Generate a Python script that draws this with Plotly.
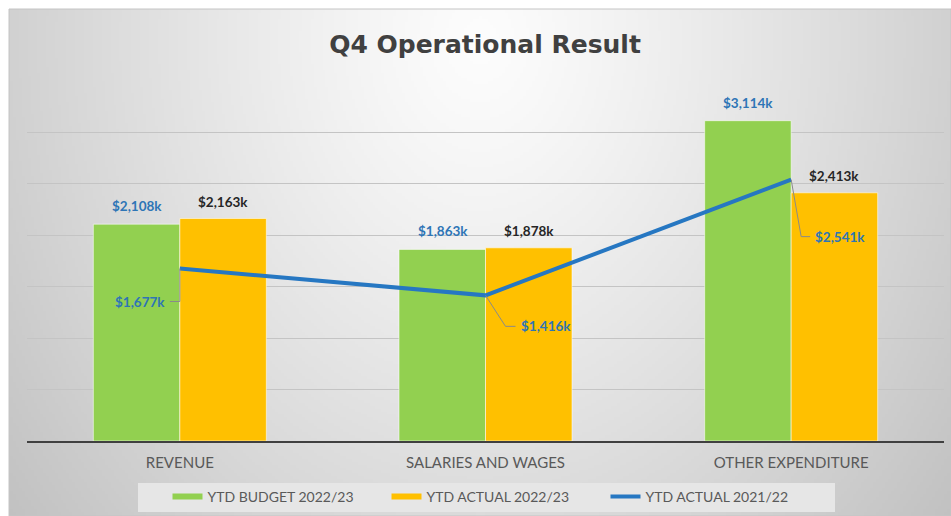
import base64
import struct
import zlib

import numpy as np
import plotly.graph_objects as go

# ---- data ($k) ----
categories = ["REVENUE", "SALARIES AND WAGES", "OTHER EXPENDITURE"]
ytd_budget_2223 = [2108, 1863, 3114]
ytd_actual_2223 = [2163, 1878, 2413]
ytd_actual_2122 = [1677, 1416, 2541]

series_names = ["YTD BUDGET 2022/23", "YTD ACTUAL 2022/23", "YTD ACTUAL 2021/22"]

W, H = 951, 516
GREEN = "#92d050"
ORANGE = "#ffc000"
BLUE = "#2677c2"
LABEL_BLUE = "#2e75b6"
FONT = "Lato"


def gray_png_uri(arr):
    """Encode a 2-D uint8 array as a grayscale PNG data URI."""
    h, w = arr.shape
    raw = b"".join(b"\x00" + arr[r].tobytes() for r in range(h))

    def chunk(tag, data):
        c = struct.pack(">I", len(data)) + tag + data
        return c + struct.pack(">I", zlib.crc32(tag + data) & 0xFFFFFFFF)

    png = (b"\x89PNG\r\n\x1a\n"
           + chunk(b"IHDR", struct.pack(">IIBBBBB", w, h, 8, 0, 0, 0, 0))
           + chunk(b"IDAT", zlib.compress(raw, 9))
           + chunk(b"IEND", b""))
    return "data:image/png;base64," + base64.b64encode(png).decode()


# radial light-to-grey backdrop of the chart card
gw, gh = 320, 172
gx = np.linspace(9, W, gw)[None, :]
gy = np.linspace(9, H, gh)[:, None]
d = np.sqrt(((gx - 480) / 560) ** 2 + ((gy - 40) / 700) ** 2)
shade = np.clip(253 - 54 * d ** 1.2, 0, 255).astype(np.uint8)
backdrop = gray_png_uri(shade)

fig = go.Figure()

fig.add_trace(go.Bar(
    x=categories, y=ytd_budget_2223, name=series_names[0],
    marker=dict(color=GREEN, line=dict(color="rgba(255,255,255,0.55)", width=1)),
    showlegend=False, hoverinfo="skip",
))
fig.add_trace(go.Bar(
    x=categories, y=ytd_actual_2223, name=series_names[1],
    marker=dict(color=ORANGE, line=dict(color="rgba(255,255,255,0.55)", width=1)),
    showlegend=False, hoverinfo="skip",
))
fig.add_trace(go.Scatter(
    x=categories, y=ytd_actual_2122, name=series_names[2], mode="lines",
    line=dict(color=BLUE, width=4), showlegend=False, hoverinfo="skip",
))

# legend entries drawn as short thick strokes
for name, color, width in zip(series_names, [GREEN, ORANGE, BLUE], [6, 6, 4]):
    fig.add_trace(go.Scatter(
        x=[None], y=[None], name=name, mode="lines",
        line=dict(color=color, width=width), showlegend=True,
    ))

label_font = dict(family=FONT, size=13.5, weight="bold")
annotations = []
shapes = []
half_bar = 43
for cat, v in zip(categories, ytd_budget_2223):
    annotations.append(dict(
        x=cat, y=v, text=f"${v:,}k", showarrow=False, xshift=-half_bar,
        yshift=18, font=dict(label_font, color=LABEL_BLUE),
    ))
for cat, v in zip(categories, ytd_actual_2223):
    annotations.append(dict(
        x=cat, y=v, text=f"${v:,}k", showarrow=False, xshift=half_bar,
        yshift=17, font=dict(label_font, color="#262626"),
    ))

# elbow callouts for the prior-year line: (bend dx, bend dy, end dx) in px
callout_paths = [(0, -33, -10), (20, -31, 30), (10, -57, 19)]
for cat, v, (bx, by, ex) in zip(categories, ytd_actual_2122, callout_paths):
    shapes.append(dict(
        type="path", xref="x", yref="y", xsizemode="pixel", ysizemode="pixel",
        xanchor=cat, yanchor=v, path=f"M 0 0 L {bx} {by} L {ex} {by}",
        line=dict(color="#8a8a8a", width=1), layer="above",
    ))
    right = ex < 0
    annotations.append(dict(
        x=cat, y=v, text=f"${v:,}k", showarrow=False,
        xanchor="right" if right else "left",
        xshift=ex - 3 if right else ex + 3, yshift=by,
        font=dict(label_font, color=LABEL_BLUE),
    ))

shapes += [
    dict(type="rect", xref="paper", yref="paper",
         x0=9 / W, x1=1, y0=0, y1=1 - 9 / H,
         line=dict(color="#c4c4c4", width=1), layer="below"),
    dict(type="rect", xref="paper", yref="paper",
         x0=138 / W, x1=835 / W, y0=1 - 512 / H, y1=1 - 483 / H,
         fillcolor="#e6e6e6", line=dict(width=0), layer="below"),
]

fig.update_layout(
    width=W, height=H,
    margin=dict(l=0, r=0, t=0, b=0),
    paper_bgcolor="white",
    plot_bgcolor="rgba(0,0,0,0)",
    barmode="group", bargap=0.434, bargroupgap=0,
    title=dict(
        text="Q4 Operational Result", x=485 / W, xanchor="center",
        y=1 - 44 / H, yanchor="middle",
        font=dict(family="DejaVu Sans", size=25, color="#404040", weight="bold"),
    ),
    xaxis=dict(
        domain=[27 / W, 944 / W], showgrid=False,
        showline=True, linecolor="#404040", linewidth=2,
        tickfont=dict(family=FONT, size=15, color="#595959"),
        ticks="", ticklabelstandoff=7,
    ),
    yaxis=dict(
        domain=[(H - 441) / H, (H - 81) / H], range=[0, 3500], dtick=500,
        showgrid=True, gridcolor="#c4c4c4", gridwidth=1,
        showticklabels=False, zeroline=False, ticks="",
    ),
    legend=dict(
        orientation="h", x=496 / W, xanchor="center", y=1 - 497 / H,
        yanchor="middle", bgcolor="rgba(0,0,0,0)",
        font=dict(family=FONT, size=14, color="#595959"),
        entrywidth=174, itemwidth=30,
    ),
    annotations=annotations,
    shapes=shapes,
    images=[dict(
        source=backdrop, xref="paper", yref="paper",
        x=9 / W, y=1 - 9 / H, sizex=1 - 9 / W, sizey=1 - 9 / H,
        xanchor="left", yanchor="top", sizing="stretch", layer="below",
    )],
)

fig.write_html("out.html")
